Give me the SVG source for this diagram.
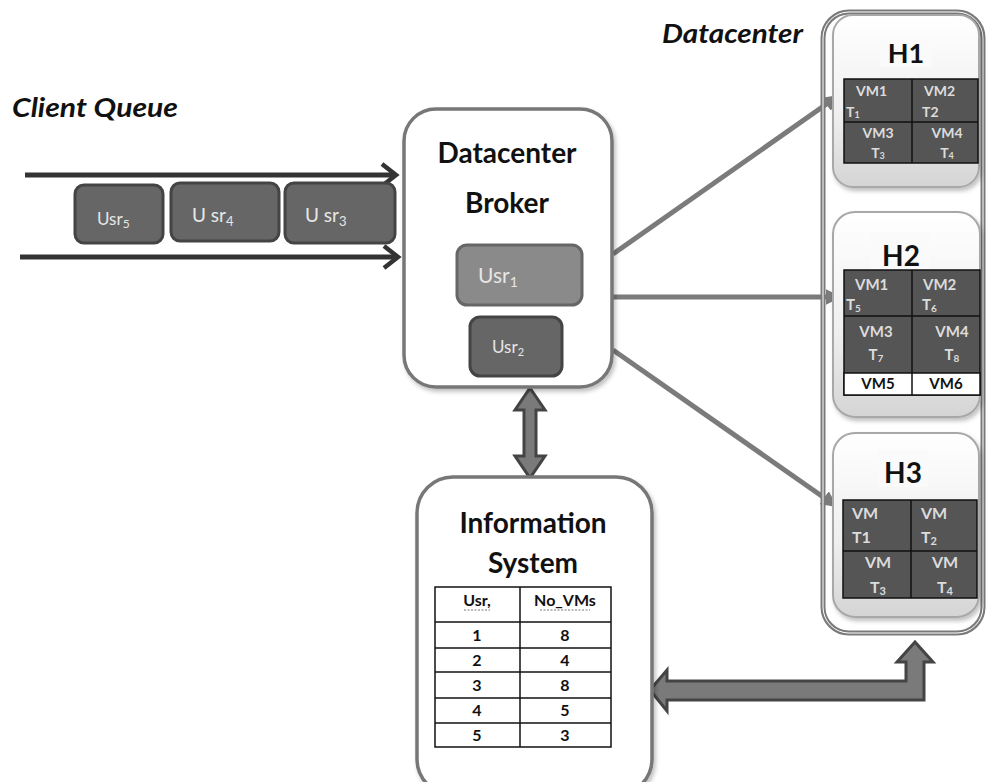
<svg xmlns="http://www.w3.org/2000/svg" width="986" height="782" viewBox="0 0 986 782">
<defs>
<linearGradient id="hg" x1="0" y1="0" x2="0" y2="1">
<stop offset="0" stop-color="#ffffff"/>
<stop offset="0.6" stop-color="#eeeeee"/>
<stop offset="1" stop-color="#d4d4d4"/>
</linearGradient>
<filter id="sh" x="-10%" y="-10%" width="130%" height="130%">
<feDropShadow dx="2" dy="3" stdDeviation="2" flood-color="#000" flood-opacity="0.25"/>
</filter>
<marker id="ah" viewBox="0 0 10 10" refX="9" refY="5" markerWidth="16" markerHeight="16" markerUnits="userSpaceOnUse" orient="auto">
<path d="M0,0 L10,5 L0,10 z" fill="#7b7b7b"/>
</marker>
</defs>
<style>
.title{font-family:"Lato","Liberation Sans",sans-serif;font-weight:bold;font-style:italic;fill:#111}
.head{font-family:"Lato","Liberation Sans",sans-serif;font-weight:bold;fill:#111;text-anchor:middle}
.usr{font-family:"Lato","Liberation Sans",sans-serif;fill:#e6e6e6}
.vm{font-family:"Lato","Liberation Sans",sans-serif;font-weight:bold;fill:#dcdcdc}
.tab{font-family:"Lato","Liberation Sans",sans-serif;font-weight:bold;fill:#111;text-anchor:middle;font-size:16px}
.qbox{fill:#666;stroke:#444;stroke-width:3}
.hbox{fill:url(#hg);stroke:#a8a8a8;stroke-width:2}
.grid{fill:#555;stroke:#111;stroke-width:1.5}
.gl{stroke:#111;stroke-width:1.5}
.conn{stroke:#7b7b7b;stroke-width:5;fill:none}
.fat{fill:#7a7a7a;stroke:#444;stroke-width:3;stroke-linejoin:miter}
.dot{stroke:#777;stroke-width:1.2;stroke-dasharray:2 1.5}
</style>

<!-- titles -->
<text class="title" x="12" y="117" font-size="27" textLength="166" lengthAdjust="spacingAndGlyphs">Client Queue</text>
<text class="title" x="662" y="43" font-size="26" textLength="141" lengthAdjust="spacingAndGlyphs">Datacenter</text>

<!-- client queue -->
<g id="queue">
<line x1="25" y1="175" x2="396" y2="175" stroke="#333" stroke-width="5"/>
<polyline points="382,164 396,175 382,186" fill="none" stroke="#333" stroke-width="4.5"/>
<line x1="20" y1="257" x2="398" y2="257" stroke="#333" stroke-width="5"/>
<polyline points="384,246 398,257 384,268" fill="none" stroke="#333" stroke-width="4.5"/>
</g>
<g id="usr5">
<rect class="qbox" x="75" y="185" width="88" height="58" rx="9"/>
<text class="usr" x="97" y="225" font-size="17">Usr<tspan font-size="12" dy="3">5</tspan></text>
</g>
<g id="usr4">
<rect class="qbox" x="171" y="183" width="108" height="58" rx="9"/>
<text class="usr" x="192" y="222" font-size="19">U sr<tspan font-size="13" dy="4">4</tspan></text>
</g>
<g id="usr3">
<rect class="qbox" x="285" y="183" width="110" height="60" rx="9"/>
<text class="usr" x="305" y="222" font-size="19">U sr<tspan font-size="13" dy="4">3</tspan></text>
</g>

<!-- connectors -->
<g id="connectors">
<line class="conn" x1="613" y1="254" x2="838" y2="96" marker-end="url(#ah)"/>
<line class="conn" x1="613" y1="297" x2="840" y2="297" marker-end="url(#ah)"/>
<line class="conn" x1="613" y1="350" x2="836" y2="506" marker-end="url(#ah)"/>
<path class="fat" d="M530,388 L545,410 L536,410 L536,456 L545,456 L530,478 L515,456 L524,456 L524,410 L515,410 Z"/>
<path class="fat" d="M650,690 L667,670 L667,681 L906,681 L906,662 L897,662 L915,642 L933,662 L924,662 L924,700 L667,700 L667,711 Z"/>
</g>

<!-- broker -->
<g id="broker">
<rect x="404" y="109" width="208" height="278" rx="32" fill="#fff" stroke="#777" stroke-width="3.5" filter="url(#sh)"/>
<text class="head" x="507" y="163" font-size="28">Datacenter</text>
<text class="head" x="507" y="213" font-size="28">Broker</text>
<rect x="457" y="245" width="125" height="60" rx="10" fill="#8a8a8a" stroke="#666" stroke-width="3"/>
<text class="usr" x="478" y="283" font-size="21" fill="#f4f4f4">Usr<tspan font-size="14" dy="4">1</tspan></text>
<rect x="470" y="317" width="92" height="59" rx="10" fill="#666" stroke="#444" stroke-width="3"/>
<text class="usr" x="492" y="353" font-size="17">Usr<tspan font-size="11" dy="3">2</tspan></text>
</g>

<!-- information system -->
<g id="infosystem">
<rect x="417" y="477" width="235" height="318" rx="36" fill="#fff" stroke="#777" stroke-width="3.5" filter="url(#sh)"/>
<text class="head" x="533" y="533" font-size="28">Information</text>
<text class="head" x="533" y="573" font-size="28">System</text>
<rect x="435" y="587" width="176" height="160" fill="#fff" stroke="#111" stroke-width="1.5"/>
<line class="gl" x1="520" y1="587" x2="520" y2="747"/>
<line class="gl" x1="435" y1="622" x2="611" y2="622"/>
<line class="gl" x1="435" y1="648" x2="611" y2="648"/>
<line class="gl" x1="435" y1="672" x2="611" y2="672"/>
<line class="gl" x1="435" y1="698" x2="611" y2="698"/>
<line class="gl" x1="435" y1="723" x2="611" y2="723"/>
<text class="tab" x="477" y="606" font-size="14">Usr,</text>
<text class="tab" x="565" y="606" font-size="14">No_VMs</text>
<line class="dot" x1="464" y1="610" x2="490" y2="610"/>
<line class="dot" x1="540" y1="610" x2="590" y2="610"/>
<text class="tab" x="477" y="641">1</text><text class="tab" x="565" y="641">8</text>
<text class="tab" x="477" y="666">2</text><text class="tab" x="565" y="666">4</text>
<text class="tab" x="477" y="691">3</text><text class="tab" x="565" y="691">8</text>
<text class="tab" x="477" y="716">4</text><text class="tab" x="565" y="716">5</text>
<text class="tab" x="477" y="741">5</text><text class="tab" x="565" y="741">3</text>
</g>

<!-- datacenter container -->
<g id="datacenter">
<rect x="823" y="12" width="160" height="621" rx="26" fill="none" stroke="#7a7a7a" stroke-width="5"/>
<rect x="823" y="12" width="160" height="621" rx="26" fill="none" stroke="#fff" stroke-width="1"/>
</g>

<!-- H1 -->
<g id="h1">
<rect class="hbox" x="833" y="15" width="146" height="172" rx="20" filter="url(#sh)"/>
<rect x="880" y="37" width="52" height="30" fill="#fafafa"/>
<text class="head" x="906" y="63" font-size="27">H1</text>
<rect class="grid" x="844" y="79" width="134" height="84"/>
<line class="gl" x1="912" y1="79" x2="912" y2="163"/>
<line class="gl" x1="844" y1="122" x2="978" y2="122"/>
<text class="vm" x="856" y="96" font-size="14">VM1</text>
<text class="vm" x="846" y="117" font-size="14">T<tspan font-size="9" dy="1">1</tspan></text>
<text class="vm" x="924" y="96" font-size="14">VM2</text>
<text class="vm" x="922" y="117" font-size="14">T2</text>
<text class="vm" x="878" y="138" font-size="14" text-anchor="middle">VM3</text>
<text class="vm" x="878" y="158" font-size="14" text-anchor="middle">T<tspan font-size="9" dy="1">3</tspan></text>
<text class="vm" x="947" y="138" font-size="14" text-anchor="middle">VM4</text>
<text class="vm" x="947" y="158" font-size="14" text-anchor="middle">T<tspan font-size="9" dy="1">4</tspan></text>
</g>

<!-- H2 -->
<g id="h2">
<rect class="hbox" x="833" y="212" width="147" height="205" rx="22" filter="url(#sh)"/>
<rect x="870" y="232" width="60" height="38" fill="#fafafa"/>
<text class="head" x="901" y="266" font-size="28">H2</text>
<rect class="grid" x="844" y="270" width="136" height="125"/>
<rect x="844" y="373" width="136" height="22" fill="#fff" stroke="#111" stroke-width="1.5"/>
<line class="gl" x1="912" y1="270" x2="912" y2="395"/>
<line class="gl" x1="844" y1="316" x2="980" y2="316"/>
<text class="vm" x="855" y="290" font-size="15">VM1</text>
<text class="vm" x="846" y="310" font-size="15">T<tspan font-size="10" dy="2">5</tspan></text>
<text class="vm" x="923" y="290" font-size="15">VM2</text>
<text class="vm" x="922" y="310" font-size="15">T<tspan font-size="10" dy="2">6</tspan></text>
<text class="vm" x="876" y="337" font-size="15" text-anchor="middle">VM3</text>
<text class="vm" x="876" y="360" font-size="15" text-anchor="middle">T<tspan font-size="10" dy="2">7</tspan></text>
<text class="vm" x="952" y="337" font-size="15" text-anchor="middle">VM4</text>
<text class="vm" x="952" y="360" font-size="15" text-anchor="middle">T<tspan font-size="10" dy="2">8</tspan></text>
<text class="head" x="878" y="389" font-size="15">VM5</text>
<text class="head" x="946" y="389" font-size="15">VM6</text>
</g>

<!-- H3 -->
<g id="h3">
<rect class="hbox" x="833" y="433" width="146" height="184" rx="22" filter="url(#sh)"/>
<rect x="878" y="450" width="50" height="37" fill="#fafafa"/>
<text class="head" x="903" y="483" font-size="28">H3</text>
<rect class="grid" x="843" y="500" width="134" height="98"/>
<line class="gl" x1="911" y1="500" x2="911" y2="598"/>
<line class="gl" x1="843" y1="551" x2="977" y2="551"/>
<text class="vm" x="852" y="519" font-size="16">VM</text>
<text class="vm" x="852" y="543" font-size="16">T1</text>
<text class="vm" x="921" y="519" font-size="16">VM</text>
<text class="vm" x="921" y="543" font-size="16">T<tspan font-size="11" dy="2">2</tspan></text>
<text class="vm" x="878" y="568" font-size="16" text-anchor="middle">VM</text>
<text class="vm" x="878" y="593" font-size="16" text-anchor="middle">T<tspan font-size="11" dy="2">3</tspan></text>
<text class="vm" x="945" y="568" font-size="16" text-anchor="middle">VM</text>
<text class="vm" x="945" y="593" font-size="16" text-anchor="middle">T<tspan font-size="11" dy="2">4</tspan></text>
</g>
</svg>
